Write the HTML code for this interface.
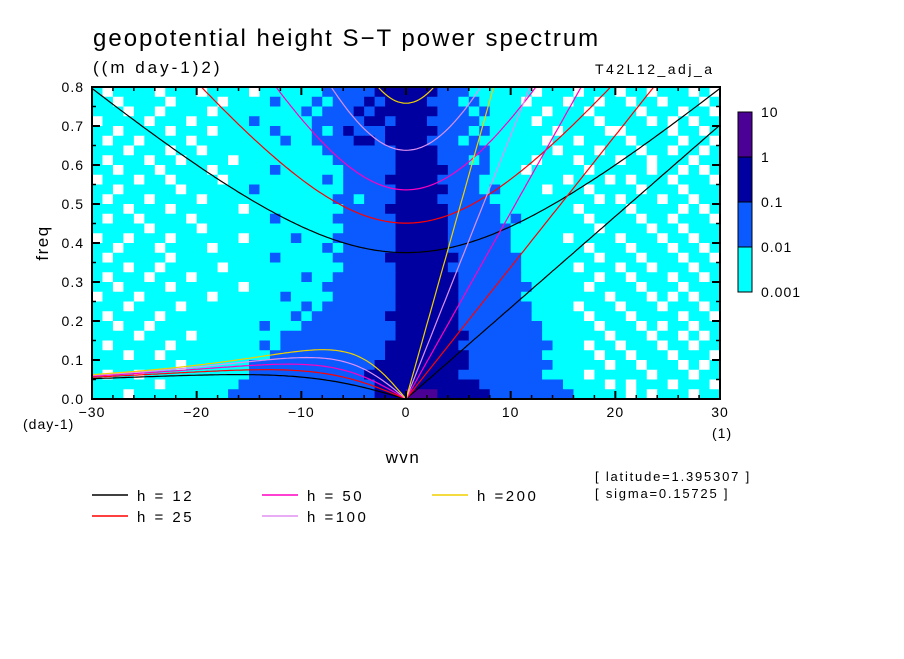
<!DOCTYPE html>
<html><head><meta charset="utf-8"><style>
body{margin:0;background:#fff;width:904px;height:654px;overflow:hidden;font-family:"Liberation Sans",sans-serif}
</style></head><body>
<svg id="chart" width="904" height="654" xmlns="http://www.w3.org/2000/svg" font-family="Liberation Sans, sans-serif">
<text x="93" y="46" font-size="24" letter-spacing="2" fill="#000">geopotential height S−T power spectrum</text>
<text x="93" y="73" font-size="17" letter-spacing="3" fill="#000">((m day-1)2)</text>
<text x="595" y="74" font-size="14" letter-spacing="2.5" fill="#000">T42L12_adj_a</text>
<g id="heat"></g>
<g id="curves"></g>
<rect x="92" y="87" width="628" height="312" fill="none" stroke="#000" stroke-width="2"/>
<g id="axes"></g>
<text transform="translate(48,243) rotate(-90)" text-anchor="middle" font-size="17" letter-spacing="1.5">freq</text>
<text x="23" y="429" font-size="14" letter-spacing="1">(day-1)</text>
<text x="712" y="438" font-size="14" letter-spacing="1">(1)</text>
<text x="403" y="463" text-anchor="middle" font-size="17" letter-spacing="1.5">wvn</text>
<g id="cbar"></g>
<g id="legend"></g>
<text x="595" y="481" font-size="13" letter-spacing="1.8">[ latitude=1.395307 ]</text>
<text x="595" y="498" font-size="13" letter-spacing="1.8">[ sigma=0.15725 ]</text>
</svg>
<script>
const heightsH=[12,25,50,100,200];
const curveColors=["#000000","#ff0000","#ff00c0","#e090f0","#f0d000"];
const xTicks=[-30,-20,-10,0,10,20,30];
const yTicks=[0,0.1,0.2,0.3,0.4,0.5,0.6,0.7,0.8];
const cbarLabels=["10","1","0.1","0.01","0.001"];
const levelColors=["#ffffff","#00ffff","#0a5aff","#0000a0","#4b0096"];
const heatRows=[
"101111011101111011111122222333333222111111011101110110111010",
"110111101111011112111212223233332221211110111011011011011101",
"111011011110111111112122232333333222121111101110111101110110",
"011110111011111211111222223323332222211111011111011110101011",
"110111101110111112111212322233333222121111110111100111101101",
"101101111011111111211222233233332221211111101101111011110110",
"111011101101111111111122222223333222221111110111011101101101",
"101110110111101111111112222223333222121111011101110110111011",
"110111011110111112111111222223333322221110111110111110110101",
"011101101111011111111121222233333222211111111011101011101110",
"110111110111111211111111222223333322212111101110111101110111",
"101110111101111111111112212223333222221111111111010111011011",
"111011101111110111111111222233333322222111111101111011110101",
"101101111011111112111112222223333322222121111110111101101110",
"111110111101111111111111222223333322222211111111011110110111",
"011011101111110111121112222223333322222211111011110111011011",
"110111011110111111111121222223333322222211111110111011101101",
"101111101111111112111112222233333332222221111111011101110110",
"111011011111011111111111222223333322222221111101110110111011",
"101110111011111111112112222223333332222221111111011011101101",
"110111101111110111111122222223333332222222111110111101110111",
"011101111110111111211112222223333332222221111111101110101011",
"111011110111111111112122222223333332222222111101110111011101",
"101111011111111111121222222233333332222222111110111011110110",
"110110111111111121112222222223333332222222211111011101011011",
"111101111011111111222222222223333333222222211111101110110101",
"101111101111111121222222222233333332222222221110110111011011",
"111011011111111112222222222233333333222222211111011011101110",
"111111110111111222222222222333333333222222221111101101110101",
"101101111111111222222222223333333332222222211110111110111011",
"111111011111112222222222222333333333322222222111101011101110",
"111011111111122222222222222333444333332222222211111010111011"];
const NS="http://www.w3.org/2000/svg";
const X0=92,X1=720,Y0=399,Y1=87;
const xs=s=>X0+(s+30)*(X1-X0)/60;
const yf=f=>Y0-f*(Y0-Y1)/0.8;
function mk(tag,attrs,parent){const e=document.createElementNS(NS,tag);for(const k in attrs)e.setAttribute(k,attrs[k]);parent.appendChild(e);return e;}
const heat=document.getElementById('heat');
const nR=heatRows.length;
heatRows.forEach((row,r)=>{
  const fTop=0.8-r*0.8/nR, fBot=0.8-(r+1)*0.8/nR;
  for(let i=0;i<row.length;i++){
    const s=-30+i;
    const c=mk('rect',{x:xs(s),y:yf(fTop),width:xs(s+1)-xs(s)+0.6,height:yf(fBot)-yf(fTop)+0.6,fill:levelColors[+row[i]]},heat);
    
    
  }
});
const curves=document.getElementById('curves');
const g=9.81,a=6.371e6,beta=2*7.292e-5/a,conv=86400/(2*Math.PI);
const clip=mk('clipPath',{id:'pc'},curves);mk('rect',{x:X0,y:Y1,width:X1-X0,height:Y0-Y1},clip);
heightsH.forEach((h,j)=>{
  const c=Math.sqrt(g*h);
  const kel=[],ig=[],ros=[];
  for(let s=-30;s<=30.001;s+=0.25){
    const k=s/a;
    ig.push([s,Math.sqrt(3*beta*c+c*c*k*k)*conv]);
    if(s>=0)kel.push([s,c*k*conv]);
    if(s<=0)ros.push([s,(-beta*k/(k*k+3*beta/c))*conv]);
  }
  [kel,ig,ros].forEach((pts,m)=>{
    const p=mk('polyline',{points:pts.map(q=>xs(q[0]).toFixed(1)+','+yf(q[1]).toFixed(1)).join(' '),fill:'none',stroke:curveColors[j],'stroke-width':1.2,'clip-path':'url(#pc)'},curves);
    
    
  });
});
const axes=document.getElementById('axes');
xTicks.forEach(t=>{
  mk('line',{x1:xs(t),x2:xs(t),y1:Y0,y2:Y0-8,stroke:'#000','stroke-width':2},axes);
  mk('line',{x1:xs(t),x2:xs(t),y1:Y1,y2:Y1+8,stroke:'#000','stroke-width':2},axes);
  const l=mk('text',{x:xs(t),y:417,'text-anchor':'middle','font-size':14,'letter-spacing':1},axes);
  l.textContent=t<0?'−'+(-t):String(t);
  
  
});
for(let t=-28;t<=28;t+=2){if(t%10){mk('line',{x1:xs(t),x2:xs(t),y1:Y0,y2:Y0-4,stroke:'#000','stroke-width':1.5},axes);mk('line',{x1:xs(t),x2:xs(t),y1:Y1,y2:Y1+4,stroke:'#000','stroke-width':1.5},axes);}}
yTicks.forEach(t=>{
  mk('line',{x1:X0,x2:X0+8,y1:yf(t),y2:yf(t),stroke:'#000','stroke-width':2},axes);
  mk('line',{x1:X1,x2:X1-8,y1:yf(t),y2:yf(t),stroke:'#000','stroke-width':2},axes);
  const l=mk('text',{x:84,y:yf(t)+5,'text-anchor':'end','font-size':14,'letter-spacing':1},axes);
  l.textContent=t.toFixed(1);
  
  
});
for(let t=0.05;t<0.8;t+=0.1){mk('line',{x1:X0,x2:X0+4,y1:yf(t),y2:yf(t),stroke:'#000','stroke-width':1.5},axes);mk('line',{x1:X1,x2:X1-4,y1:yf(t),y2:yf(t),stroke:'#000','stroke-width':1.5},axes);}
const cb=document.getElementById('cbar');
const cbColors=[levelColors[4],levelColors[3],levelColors[2],levelColors[1]];
cbColors.forEach((col,i)=>{
  const r=mk('rect',{x:738,y:112+i*45,width:14,height:45,fill:col,stroke:'#000','stroke-width':1},cb);
  
  
});
cbarLabels.forEach((t,i)=>{
  const l=mk('text',{x:761,y:117+i*45,'font-size':14,'letter-spacing':1},cb);
  l.textContent=t;
  
  
});
const lg=document.getElementById('legend');
const legText=["h = 12","h = 25","h = 50","h =100","h =200"];
const lpos=[[92,495],[92,516],[262,495],[262,516],[432,495]];
heightsH.forEach((h,j)=>{
  const [x,y]=lpos[j];
  const ln=mk('line',{x1:x,x2:x+36,y1:y,y2:y,stroke:curveColors[j],'stroke-width':1.5},lg);
  
  
  const t=mk('text',{x:x+45,y:y+6,'font-size':15,'letter-spacing':2.5},lg);
  t.textContent=legText[j];
  
  
});
</script>
</body></html>
